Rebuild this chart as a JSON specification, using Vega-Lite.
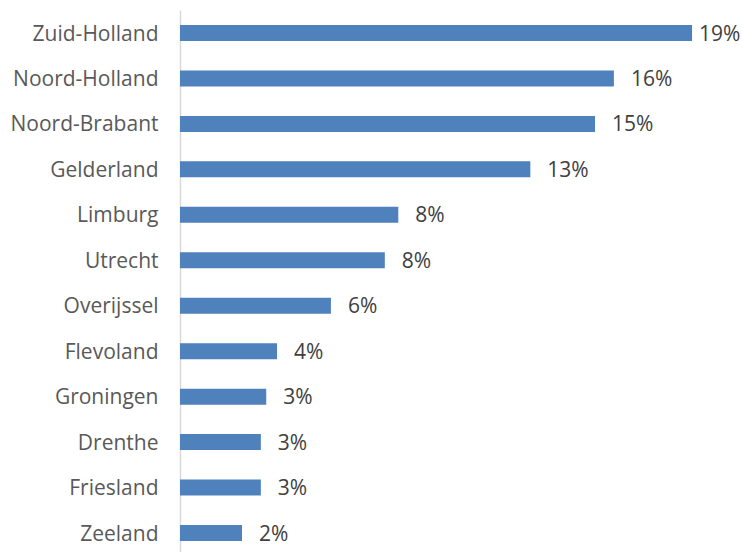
{
  "$schema": "https://vega.github.io/schema/vega-lite/v6.json",
  "width": 539,
  "height": 542,
  "autosize": {"type": "none"},
  "padding": {"left": 180, "top": 10, "right": 24, "bottom": 0},
  "background": "white",
  "config": {"view": {"stroke": null}, "font": "Open Sans"},
  "data": {"values": [
    {"provincie": "Zuid-Holland", "aandeel": 0.190},
    {"provincie": "Noord-Holland", "aandeel": 0.161},
    {"provincie": "Noord-Brabant", "aandeel": 0.154},
    {"provincie": "Gelderland", "aandeel": 0.130},
    {"provincie": "Limburg", "aandeel": 0.081},
    {"provincie": "Utrecht", "aandeel": 0.076},
    {"provincie": "Overijssel", "aandeel": 0.056},
    {"provincie": "Flevoland", "aandeel": 0.036},
    {"provincie": "Groningen", "aandeel": 0.032},
    {"provincie": "Drenthe", "aandeel": 0.030},
    {"provincie": "Friesland", "aandeel": 0.030},
    {"provincie": "Zeeland", "aandeel": 0.023}
  ]},
  "encoding": {
    "y": {
      "field": "provincie", "type": "nominal", "sort": null,
      "scale": {"paddingInner": 0.648, "paddingOuter": 0.286, "align": 0.577},
      "axis": {"title": null, "ticks": false, "labelPadding": 22, "labelOffset": 1.5, "labelFontSize": 21, "labelColor": "#595959", "labelFont": "Open Sans", "domainColor": "#d9d9d9", "domainWidth": 1.5}
    },
    "x": {
      "field": "aandeel", "type": "quantitative",
      "scale": {"domain": [0, 0.2], "nice": false},
      "axis": null
    }
  },
  "layer": [
    {"mark": {"type": "bar", "color": "#4f81bd"}},
    {"transform": [{"filter": "datum.aandeel < 0.18"}],
     "mark": {"type": "text", "align": "left", "baseline": "middle", "dx": 17, "dy": 1.5, "fontSize": 21, "color": "#404040", "font": "Open Sans"},
     "encoding": {"text": {"field": "aandeel", "type": "quantitative", "format": ".0%"}}},
    {"transform": [{"filter": "datum.aandeel >= 0.18"}],
     "mark": {"type": "text", "align": "left", "baseline": "middle", "dx": 7, "dy": 1.5, "fontSize": 21, "color": "#404040", "font": "Open Sans"},
     "encoding": {"text": {"field": "aandeel", "type": "quantitative", "format": ".0%"}}}
  ]
}
